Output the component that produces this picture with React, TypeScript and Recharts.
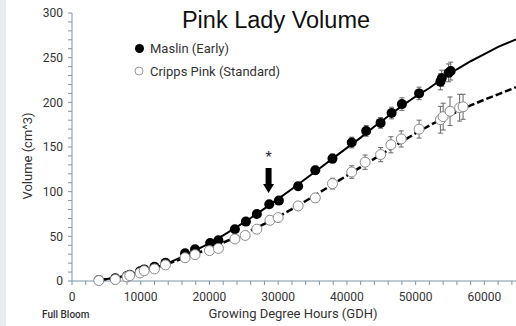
import { ComposedChart, Scatter, XAxis, YAxis, ErrorBar, ReferenceDot } from 'recharts';

// Maslin (Early) - filled circles
const maslinGdh = [3900, 6300, 8000, 8400, 9900, 10500, 12000, 13600, 16450, 17900, 20100, 21300, 23700, 25300, 26900, 28700, 30100, 32900, 35400, 37900, 40700, 42800, 44900, 46500, 48000, 50500, 53600, 53800, 54800, 55100];
const maslinVol = [1, 3, 5.5, 7, 11, 13, 16, 20.5, 31, 35.5, 42.5, 45.5, 58, 66.5, 75, 86, 90, 106, 124, 137, 155, 168, 177, 188, 198, 210, 223, 227, 233, 235];
const maslinErr = [0.5, 0.5, 0.5, 0.5, 1, 1, 1, 1, 1.5, 1.5, 2, 2, 2.5, 2.5, 3, 3, 3, 4, 4.5, 5, 6, 6, 6, 6.5, 7, 7, 9, 9, 10, 10];

// Cripps Pink (Standard) - open circles
const crippsGdh = [3900, 6300, 8000, 8400, 9900, 10500, 12000, 13600, 16450, 17900, 20000, 21300, 23700, 25200, 26900, 28800, 30000, 32900, 35400, 37900, 40700, 42650, 44900, 46400, 47900, 50500, 53600, 54000, 55000, 56400, 56900];
const crippsVol = [0.5, 1.7, 4.5, 6, 9, 11.5, 13.5, 18, 26, 29.5, 34, 36.5, 47, 51, 58, 68, 71, 84, 93, 109, 122, 133, 141.5, 152.5, 159, 170, 180.5, 184, 190, 194, 195];
const crippsErr = [0.5, 0.5, 0.5, 0.5, 1, 1, 1, 1, 1.5, 1.5, 2, 2, 2.5, 3, 3, 3.5, 4, 4.5, 5, 6, 7, 8, 8, 9, 9, 10, 15, 15, 16, 15, 14];

// fitted curves
const fitGdh = [4000, 6000, 8000, 10000, 12000, 14000, 16000, 18000, 20000, 22000, 24000, 26000, 28000, 30000, 32000, 34000, 36000, 38000, 40000, 42000, 44000, 46000, 48000, 50000, 52000, 54000, 56000, 58000, 60000, 62000, 64000, 64600];
const maslinFit = [1.5, 3, 6, 10, 14.5, 20, 27, 34.5, 42, 51, 60.5, 70.5, 81, 92, 103, 114.5, 126, 137.5, 149, 160.5, 173, 184.5, 196, 206.5, 216, 227, 237, 246, 254, 262, 268.5, 270.5];
const crippsFit = [1, 3, 6, 10, 14.5, 19.5, 25, 30.5, 36.5, 43, 49.5, 56.5, 64, 72, 80.5, 89.5, 99, 108.5, 118, 127.5, 137, 146.5, 156, 165.5, 174, 182, 189.5, 196.5, 203, 209, 215, 217];

const xTicks = [0, 2000, 4000, 6000, 8000, 10000, 12000, 14000, 16000, 18000, 20000, 22000, 24000, 26000, 28000, 30000, 32000, 34000, 36000, 38000, 40000, 42000, 44000, 46000, 48000, 50000, 52000, 54000, 56000, 58000, 60000, 62000, 64000];
const yTicks = [0, 10, 20, 30, 40, 50, 60, 70, 80, 90, 100, 110, 120, 130, 140, 150, 160, 170, 180, 190, 200, 210, 220, 230, 240, 250, 260, 270, 280, 290, 300];

// marker for the "*" arrow (tip position)
const arrowGdh = 28600;
const arrowVol = 98.5;

const maslin = maslinGdh.map((x, i) => ({ x, y: maslinVol[i], err: maslinErr[i] }));
const cripps = crippsGdh.map((x, i) => ({ x, y: crippsVol[i], err: crippsErr[i] }));
const maslinLine = fitGdh.map((x, i) => ({ x, y: maslinFit[i] }));
const crippsLine = fitGdh.map((x, i) => ({ x, y: crippsFit[i] }));

const AXIS = '#8094aa';
const FONT = 'Roboto, "Noto Sans", sans-serif';

const XTick = (props: any) => {
    const { x, y, payload } = props;
    if (payload.value % 10000 !== 0) return <g />;
    return (
        <text x={x} y={y} dy="0.71em" textAnchor="middle" fontSize={12} fontFamily={FONT} fill="#333">
            {payload.value}
        </text>
    );
};

const YTick = (props: any) => {
    const { x, y, payload } = props;
    if (payload.value % 50 !== 0) return <g />;
    return (
        <text x={x} y={y} dy="0.355em" textAnchor="end" fontSize={12} fontFamily={FONT} fill="#333">
            {payload.value}
        </text>
    );
};

const Arrow = (props: any) => {
    const { cx, cy } = props;
    if (cx == null || cy == null) return <g />;
    return (
        <g>
            <rect x={cx - 3} y={cy - 25} width={6} height={17} fill="#000" />
            <path d={`M${cx - 5.5},${cy - 9} L${cx + 5.5},${cy - 9} L${cx},${cy} Z`} fill="#000" />
            <text x={cx} y={cy - 30} textAnchor="middle" fontSize={16} fontFamily='"Liberation Sans", Arial' fill="#222">*</text>
        </g>
    );
};

export default function App() {
    return (
        <div style={{ position: 'absolute', left: 0, top: 0, width: 516, height: 326, background: '#fff', overflow: 'hidden' }}>
            <div style={{ position: 'absolute', left: 0, top: 0, width: 6, height: 326, background: '#e8ecee' }} />
            <ComposedChart width={516} height={326} margin={{ top: 13, right: 0, bottom: 0, left: 0 }}>
                <XAxis
                    type="number"
                    dataKey="x"
                    domain={[0, 64600]}
                    ticks={xTicks}
                    interval={0}
                    allowDataOverflow
                    height={45}
                    stroke={AXIS}
                    tickSize={4}
                    tickMargin={7}
                    tick={<XTick />}
                />
                <YAxis
                    type="number"
                    dataKey="y"
                    domain={[0, 300]}
                    ticks={yTicks}
                    interval={0}
                    width={72}
                    stroke={AXIS}
                    tickSize={4}
                    tickMargin={5}
                    tick={<YTick />}
                />
                <Scatter data={maslinLine} line={{ stroke: '#000', strokeWidth: 2 }} lineType="joint" shape={() => <g />} isAnimationActive={false} />
                <Scatter data={crippsLine} line={{ stroke: '#000', strokeWidth: 2.5, strokeDasharray: '7 3' }} lineType="joint" shape={() => <g />} isAnimationActive={false} />
                <Scatter
                    data={maslin}
                    isAnimationActive={false}
                    shape={(p: any) => <circle cx={p.cx} cy={p.cy} r={5} fill="#000" />}
                >
                    <ErrorBar dataKey="err" direction="y" width={2.5} stroke="#666" strokeWidth={1} />
                </Scatter>
                <Scatter
                    data={cripps}
                    isAnimationActive={false}
                    shape={(p: any) => <circle cx={p.cx} cy={p.cy} r={5} fill="#fff" stroke="#8a8a8a" strokeWidth={1} />}
                >
                    <ErrorBar dataKey="err" direction="y" width={2.5} stroke="#666" strokeWidth={1} />
                </Scatter>
                <ReferenceDot x={arrowGdh} y={arrowVol} ifOverflow="visible" shape={<Arrow />} />
            </ComposedChart>
            <svg width={516} height={326} style={{ position: 'absolute', left: 0, top: 0, pointerEvents: 'none' }}>
                <text x={276} y={28} textAnchor="middle" fontSize={23.5} fontFamily='"Liberation Sans", Arial, sans-serif' fill="#111">Pink Lady Volume</text>
                <circle cx={139.5} cy={48.5} r={4.5} fill="#000" />
                <text x={150} y={53} fontSize={13} fontFamily={FONT} fill="#333">Maslin (Early)</text>
                <circle cx={139} cy={71} r={4} fill="#fff" stroke="#999" strokeWidth={1} />
                <text x={150} y={75.5} fontSize={13} fontFamily={FONT} fill="#333">Cripps Pink (Standard)</text>
                <text transform="translate(32,156) rotate(-90)" textAnchor="middle" fontSize={13} fontFamily={FONT} fill="#333">Volume (cm^3)</text>
                <text x={293} y={318} textAnchor="middle" fontSize={13} fontFamily={FONT} fill="#333">Growing Degree Hours (GDH)</text>
                <text x={42} y={318} fontSize={10} fontWeight={500} fontFamily={FONT} fill="#333">Full Bloom</text>
            </svg>
        </div>
    );
}
